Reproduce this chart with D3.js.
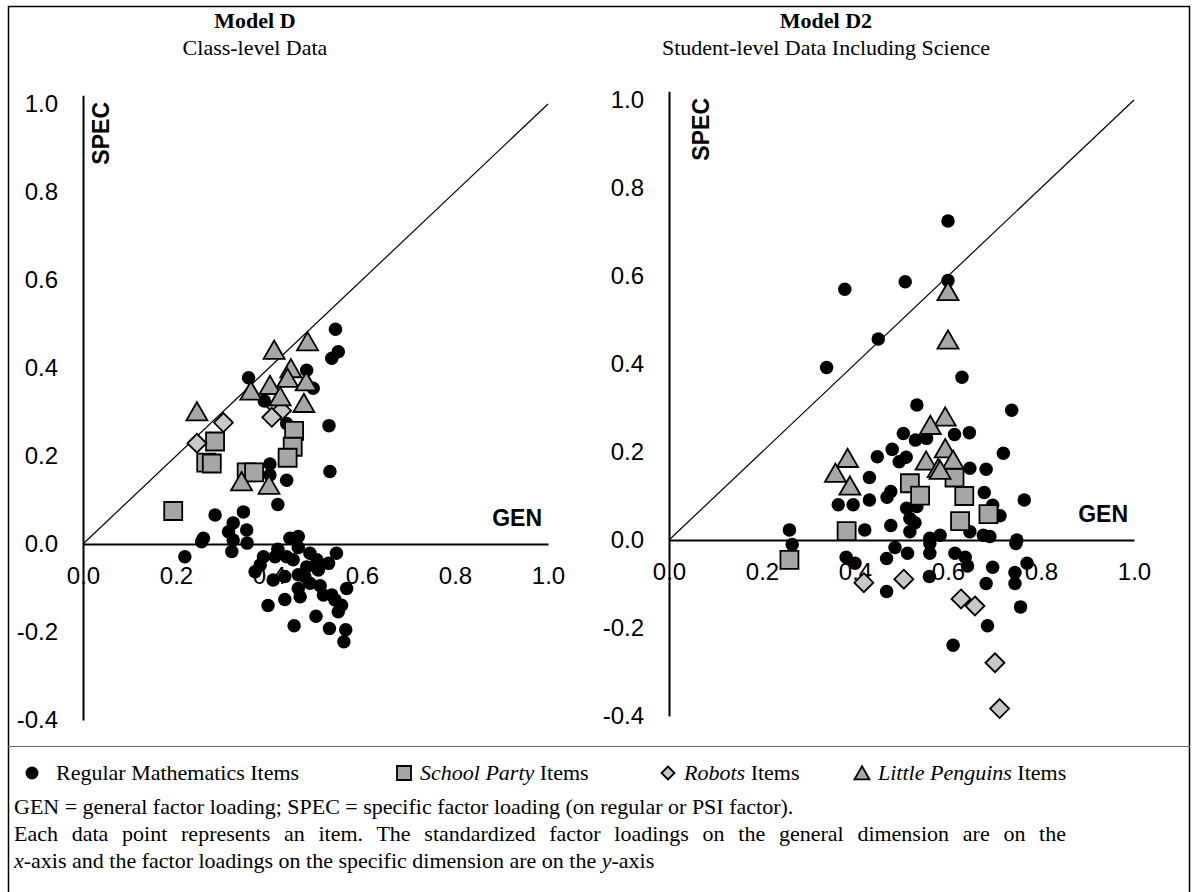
<!DOCTYPE html>
<html><head><meta charset="utf-8">
<script src="https://cdn.jsdelivr.net/npm/d3@7"></script>
<style>body{margin:0;background:#fff}</style>
</head><body>
<svg id="c" width="1198" height="892"></svg>
<script>
// ---------- data ----------
const xTicks = [0, 0.2, 0.4, 0.6, 0.8, 1.0];
const yTicks = [-0.4, -0.2, 0.0, 0.2, 0.4, 0.6, 0.8, 1.0];
const panelTitles = ["Model D", "Model D2"];
const panelSubtitles = ["Class-level Data", "Student-level Data Including Science"];
const xAxisName = "GEN";
const yAxisName = "SPEC";
const diagonal = [[0, 0], [1, 1]];

// Model D (class-level): [GEN, SPEC]
const dRegular = [
  [0.543,0.488],[0.549,0.437],[0.535,0.422],[0.481,0.395],[0.495,0.354],[0.356,0.378],
  [0.390,0.325],[0.529,0.269],[0.438,0.274],[0.402,0.182],[0.531,0.165],[0.402,0.157],
  [0.438,0.145],[0.419,0.090],[0.284,0.066],[0.345,0.073],[0.323,0.048],[0.352,0.032],
  [0.313,0.028],[0.259,0.013],[0.255,0.005],[0.323,0.009],[0.353,0.002],[0.320,-0.017],
  [0.219,-0.029],[0.445,0.013],[0.463,0.017],[0.463,-0.008],[0.419,-0.012],[0.438,-0.029],
  [0.388,-0.029],[0.413,-0.029],[0.452,-0.036],[0.381,-0.048],[0.370,-0.063],[0.488,-0.021],
  [0.503,-0.036],[0.545,-0.021],[0.528,-0.044],[0.481,-0.052],[0.506,-0.059],[0.463,-0.070],
  [0.477,-0.074],[0.409,-0.082],[0.434,-0.074],[0.488,-0.089],[0.463,-0.101],[0.510,-0.095],
  [0.567,-0.101],[0.467,-0.120],[0.517,-0.116],[0.535,-0.116],[0.542,-0.127],[0.556,-0.139],
  [0.549,-0.154],[0.434,-0.126],[0.398,-0.140],[0.501,-0.164],[0.454,-0.186],[0.530,-0.192],
  [0.565,-0.195],[0.561,-0.222]
];
const dSchoolParty = [
  [0.284,0.233],[0.265,0.185],[0.277,0.183],[0.454,0.257],[0.451,0.221],[0.440,0.196],
  [0.352,0.163],[0.368,0.163],[0.194,0.075]
];
const dRobots = [
  [0.245,0.229],[0.302,0.276],[0.416,0.312],[0.427,0.303],[0.406,0.288]
];
const dPenguins = [
  [0.483,0.460],[0.411,0.441],[0.447,0.399],[0.440,0.377],[0.480,0.369],[0.361,0.348],
  [0.402,0.361],[0.424,0.335],[0.475,0.320],[0.245,0.301],[0.341,0.142],[0.400,0.134]
];

// Model D2 (student-level incl. science): [GEN, SPEC]
const d2Regular = [
  [0.378,0.570],[0.508,0.587],[0.450,0.457],[0.339,0.392],[0.600,0.725],[0.600,0.590],
  [0.630,0.370],[0.533,0.307],[0.737,0.295],[0.504,0.242],[0.530,0.227],[0.554,0.231],
  [0.614,0.240],[0.646,0.244],[0.480,0.206],[0.448,0.189],[0.495,0.178],[0.510,0.188],
  [0.719,0.197],[0.647,0.163],[0.682,0.161],[0.431,0.142],[0.477,0.110],[0.469,0.097],
  [0.364,0.080],[0.396,0.080],[0.431,0.091],[0.511,0.072],[0.533,0.076],[0.678,0.108],
  [0.696,0.079],[0.764,0.091],[0.712,0.055],[0.477,0.033],[0.518,0.049],[0.529,0.039],
  [0.518,0.019],[0.421,0.023],[0.561,0.004],[0.583,0.011],[0.647,0.019],[0.676,0.011],
  [0.690,0.008],[0.748,0.000],[0.746,-0.008],[0.561,-0.008],[0.486,-0.017],[0.513,-0.030],
  [0.561,-0.030],[0.615,-0.030],[0.637,-0.039],[0.642,-0.059],[0.381,-0.039],[0.400,-0.053],
  [0.468,-0.042],[0.696,-0.062],[0.770,-0.053],[0.744,-0.074],[0.560,-0.083],[0.468,-0.117],
  [0.682,-0.099],[0.744,-0.099],[0.756,-0.152],[0.685,-0.195],[0.611,-0.239],[0.259,0.023],
  [0.265,-0.010]
];
const d2SchoolParty = [
  [0.518,0.129],[0.540,0.101],[0.614,0.142],[0.635,0.100],[0.687,0.059],[0.626,0.043],
  [0.382,0.020],[0.259,-0.045]
];
const d2Robots = [
  [0.419,-0.097],[0.505,-0.089],[0.628,-0.134],[0.658,-0.150],[0.701,-0.279],[0.711,-0.383]
];
const d2Penguins = [
  [0.600,0.565],[0.600,0.455],[0.594,0.280],[0.562,0.261],[0.594,0.208],[0.553,0.180],
  [0.611,0.182],[0.579,0.163],[0.583,0.159],[0.384,0.186],[0.358,0.152],[0.389,0.123]
];

const legendLabels = [
  {italic: "", rest: "Regular Mathematics Items", shape: "circle"},
  {italic: "School Party", rest: " Items", shape: "square"},
  {italic: "Robots", rest: " Items", shape: "diamond"},
  {italic: "Little Penguins", rest: " Items", shape: "triangle"}
];
const noteLines = [
  {justify: false, parts: [["GEN = general factor loading; SPEC = specific factor loading (on regular or PSI factor).", false]]},
  {justify: true, parts: [["Each data point represents an item. The standardized factor loadings on the general dimension are on the", false]]},
  {justify: false, parts: [["x", true], ["-axis and the factor loadings on the specific dimension are on the ", false], ["y", true], ["-axis", false]]}
];

// ---------- drawing ----------
const svg = d3.select("#c");
const SANS = "'Liberation Sans', Arial, sans-serif";
const SERIF = "'Liberation Serif', 'Times New Roman', serif";

// frame
svg.append("rect").attr("x", 8.5).attr("y", 6.5).attr("width", 1181).attr("height", 890)
  .attr("fill", "none").attr("stroke", "#000").attr("stroke-width", 1.5);
svg.append("line").attr("x1", 8).attr("x2", 1190).attr("y1", 746.5).attr("y2", 746.5)
  .attr("stroke", "#666").attr("stroke-width", 1);

const shapePath = {
  circle: s => d3.symbol(d3.symbolCircle, Math.PI * s * s / 4)(),
  square: s => `M${-s/2},${-s/2}h${s}v${s}h${-s}Z`,
  diamond: s => `M0,${-s/2}L${s/2},0L0,${s/2}L${-s/2},0Z`,
  triangle: s => `M0,${-s*0.45}L${s/2},${s*0.42}L${-s/2},${s*0.42}Z`
};
const styles = {
  circle: {size: 13.5, fill: "#000", stroke: "none"},
  square: {size: 18, fill: "#a6a6a6", stroke: "#000"},
  diamond: {size: 19, fill: "#c8c8c8", stroke: "#000"},
  triangle: {size: 21, fill: "#a6a6a6", stroke: "#000"}
};

const panels = [
  {x0: 83, y0: 544, title: 0, titleX: 255, spec: 100,
   series: [["circle", dRegular], ["square", dSchoolParty], ["diamond", dRobots], ["triangle", dPenguins]]},
  {x0: 669, y0: 540, title: 1, titleX: 826, spec: 700,
   series: [["circle", d2Regular], ["square", d2SchoolParty], ["diamond", d2Robots], ["triangle", d2Penguins]]}
];

const UX = 465, UY = 440;
const fmt = d => d.toFixed(1);

panels.forEach(p => {
  const x = d3.scaleLinear().domain([0, 1]).range([p.x0, p.x0 + UX]);
  const y = d3.scaleLinear().domain([-0.4, 1.02]).range([p.y0 + 0.4 * UY, p.y0 - 1.02 * UY]);
  const g = svg.append("g");

  // titles
  g.append("text").attr("x", p.titleX).attr("y", 28).attr("text-anchor", "middle")
    .attr("font-family", SERIF).attr("font-weight", "bold").attr("font-size", 22)
    .text(panelTitles[p.title]);
  g.append("text").attr("x", p.titleX).attr("y", 55).attr("text-anchor", "middle")
    .attr("font-family", SERIF).attr("font-size", 22)
    .text(panelSubtitles[p.title]);

  // y axis
  const ya = g.append("g").attr("transform", `translate(${p.x0},0)`)
    .call(d3.axisLeft(y).tickValues(yTicks).tickSize(0).tickPadding(25).tickFormat(fmt));
  ya.select(".domain").attr("stroke", "#000").attr("stroke-width", 2);
  ya.selectAll("text").attr("font-family", SANS).attr("font-size", 24).attr("fill", "#000");

  // x axis
  const xa = g.append("g").attr("transform", `translate(0,${p.y0})`)
    .call(d3.axisBottom(x).tickValues(xTicks).tickSize(0).tickPadding(23).tickFormat(fmt));
  xa.select(".domain").attr("stroke", "#000").attr("stroke-width", 2);
  xa.selectAll("text").attr("font-family", SANS).attr("font-size", 24).attr("fill", "#000");

  // diagonal y = x
  g.append("path").datum(diagonal)
    .attr("d", d3.line().x(d => x(d[0])).y(d => y(d[1])))
    .attr("stroke", "#000").attr("stroke-width", 1.2).attr("fill", "none");

  // axis names
  g.append("text").attr("x", x(1) - 6).attr("y", p.y0 - 18).attr("text-anchor", "end")
    .attr("font-family", SANS).attr("font-weight", "bold").attr("font-size", 23).text(xAxisName);
  g.append("text").attr("transform", `translate(${p.spec + 9},${y(1) - 2}) rotate(-90)`)
    .attr("text-anchor", "end").attr("font-family", SANS).attr("font-weight", "bold")
    .attr("font-size", 23).text(yAxisName);

  // points
  p.series.forEach(([shape, data]) => {
    const st = styles[shape];
    g.append("g").selectAll("path").data(data).join("path")
      .attr("transform", d => `translate(${x(d[0])},${y(d[1])})`)
      .attr("d", shapePath[shape](st.size))
      .attr("fill", st.fill).attr("stroke", st.stroke).attr("stroke-width", 1.8);
  });
});

// legend
const legendX = [32, 404, 668, 862];
const lg = svg.append("g");
legendLabels.forEach((it, i) => {
  const st = styles[it.shape];
  const sz = {circle: 13, square: 14, diamond: 13, triangle: 15}[it.shape];
  lg.append("path").attr("transform", `translate(${legendX[i]},773)`)
    .attr("d", shapePath[it.shape](sz)).attr("fill", st.fill).attr("stroke", st.stroke).attr("stroke-width", 1.8);
  const t = lg.append("text").attr("x", legendX[i] + (i === 0 ? 24 : 16)).attr("y", 780)
    .attr("font-family", SERIF).attr("font-size", 22);
  if (it.italic) t.append("tspan").attr("font-style", "italic").text(it.italic);
  t.append("tspan").text(it.rest);
});

// notes (second line is justified like the source paragraph)
const noteLeft = 14, noteRight = 1066;
noteLines.forEach((line, i) => {
  const t = svg.append("text").attr("x", noteLeft).attr("y", 814 + i * 27)
    .attr("font-family", SERIF).attr("font-size", 22);
  line.parts.forEach(([s, it]) => t.append("tspan").attr("font-style", it ? "italic" : "normal").text(s));
  if (line.justify) {
    const w = t.node().getComputedTextLength();
    const txt = line.parts.map(d => d[0]).join("");
    const spaces = (txt.match(/ /g) || []).length;
    if (spaces > 0 && w < noteRight - noteLeft) {
      t.attr("word-spacing", (noteRight - noteLeft - w) / spaces);
    }
  }
});
</script>
</body></html>
